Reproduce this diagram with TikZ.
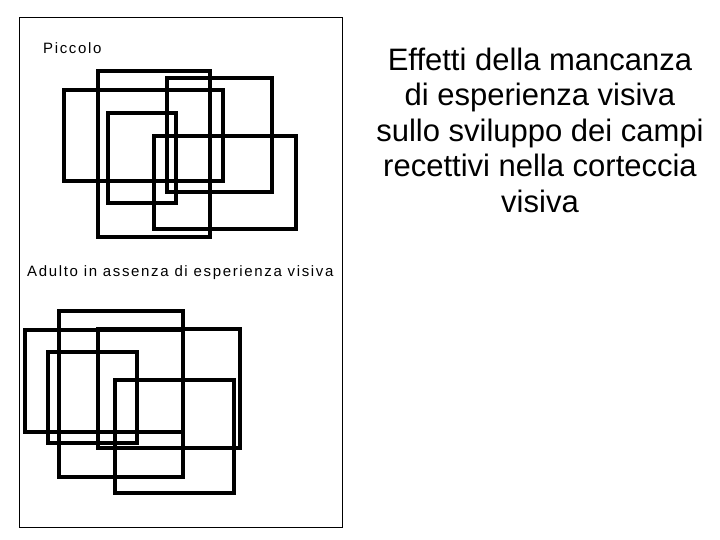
\documentclass[tikz,border=0pt]{standalone}
\usepackage{fontspec}
\setmainfont{Liberation Sans}
\newfontfamily\spacedfont[LetterSpace=11]{Liberation Sans}
\begin{document}
\begin{tikzpicture}[x=1bp,y=-1bp,
  field/.style={line width=3.2bp},
  frame/.style={line width=0.9bp},
  small/.style={inner sep=0pt, anchor=west, font=\spacedfont\fontsize{15bp}{17bp}\selectfont},
  big/.style={inner sep=0pt, align=center, font=\fontsize{31bp}{35.5bp}\selectfont}]
\useasboundingbox (0,0) rectangle (720,540);
\draw[frame] (19,17) rectangle (342,527);
% Piccolo
\draw[field] (98,71) rectangle (210,237);
\draw[field] (167,78) rectangle (272,192);
\draw[field] (64,90) rectangle (223,181);
\draw[field] (108,113) rectangle (176,203);
\draw[field] (154,136) rectangle (296,229);
% Adulto
\draw[field] (59,311) rectangle (183,477);
\draw[field] (25,330) rectangle (183,432);
\draw[field] (98,329) rectangle (240,448);
\draw[field] (48,352) rectangle (137,443);
\draw[field] (115,380) rectangle (234,493);
\node[small] (piccolo) at (43,48) {Piccolo};
\node[small] (adulto) at (27,273) {Adulto in assenza di esperienza visiva};
\node[big] (title) at (540,130) {Effetti della mancanza\\di esperienza visiva\\sullo sviluppo dei campi\\recettivi nella corteccia\\visiva};
\end{tikzpicture}
\end{document}
